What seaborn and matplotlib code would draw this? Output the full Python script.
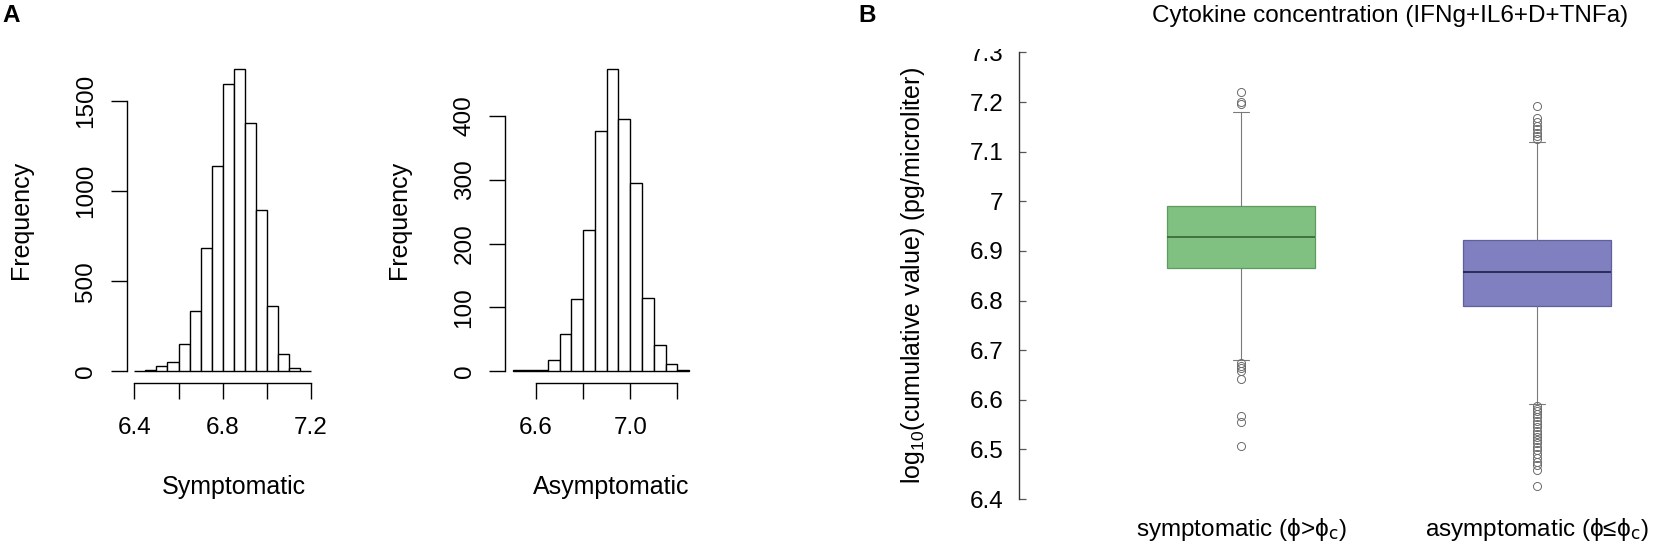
import numpy as np
import matplotlib
matplotlib.use("Agg")
import matplotlib.pyplot as plt
from matplotlib.patches import Rectangle
import seaborn as sns

# histogram counts (bin width 0.05)
sym_edges = np.arange(6.40, 7.2001, 0.05)
sym_counts = [2, 6, 27, 53, 152, 335, 682, 1138, 1599, 1681, 1377, 896, 364, 97, 19, 3]

asym_edges = np.arange(6.50, 7.2501, 0.05)
asym_counts = [1, 2, 2, 18, 58, 113, 222, 376, 474, 396, 295, 114, 41, 11, 2]

# box plot summary
groups = ["symptomatic", "asymptomatic"]
box_labels = [r"symptomatic ($\phi$>$\phi_{\mathrm{c}}$)",
              r"asymptomatic ($\phi$≤$\phi_{\mathrm{c}}$)"]
q1 = [6.866, 6.790]
med = [6.929, 6.857]
q3 = [6.9915, 6.922]
whislo = [6.681, 6.591]
whishi = [7.181, 7.120]
fliers = [
    [7.220, 7.201, 7.196, 6.675, 6.668, 6.665, 6.658, 6.642, 6.568, 6.555, 6.506],
    [7.192, 7.167, 7.159, 7.152, 7.145, 7.138, 7.131, 7.125,
     6.587, 6.582, 6.577, 6.572, 6.565, 6.558, 6.552, 6.545, 6.538, 6.532,
     6.525, 6.518, 6.512, 6.505, 6.498, 6.490, 6.483, 6.475, 6.468, 6.459, 6.426],
]
box_fill = ["#80C080", "#8080C0"]
box_edge = ["#5f9a5f", "#5f5f9a"]
box_median = ["#3d6a3d", "#25254f"]

sns.set_style("white")
plt.rcParams["font.family"] = ["Liberation Sans", "DejaVu Sans"]
plt.rcParams["mathtext.fontset"] = "dejavusans"
plt.rcParams["mathtext.default"] = "regular"
for k in ["text.color", "axes.labelcolor", "xtick.color", "ytick.color"]:
    plt.rcParams[k] = "black"

FS_TICK = 17.5
FS_LAB = 18
fig = plt.figure(figsize=(16.54, 5.49), dpi=100)


def r_hist(ax, edges, counts, xticks, xticklabels, yticks, xlabel, xlab_x):
    centers = edges[:-1] + 0.025
    sns.histplot(x=list(centers), weights=list(counts), bins=len(counts),
                 binrange=(edges[0], edges[-1]), ax=ax,
                 color="white", edgecolor="black", linewidth=1.0, alpha=1)
    top = max(counts)
    ax.set_ylim(-0.04 * top, 1.04 * top)
    rng = edges[-1] - edges[0]
    ax.set_xlim(edges[0] - 0.04 * rng, edges[-1] + 0.04 * rng)
    for s in ["top", "right"]:
        ax.spines[s].set_visible(False)
    ax.spines["left"].set_bounds(yticks[0], yticks[-1])
    ax.spines["bottom"].set_bounds(xticks[0], xticks[-1])
    for s in ["left", "bottom"]:
        ax.spines[s].set_linewidth(1.0)
        ax.spines[s].set_color("black")
    ax.set_xticks(xticks)
    ax.set_xticklabels(xticklabels)
    ax.set_yticks(yticks)
    ax.set_yticklabels([str(v) for v in yticks], rotation=90, va="center")
    ax.tick_params(bottom=True, left=True, direction="out", length=11.5,
                   width=1.0, labelsize=FS_TICK, color="black")
    ax.tick_params(axis="x", pad=13)
    ax.tick_params(axis="y", pad=10)
    ax.set_ylabel("Frequency", fontsize=FS_LAB)
    ax.yaxis.set_label_coords(-0.493, 0.5)
    ax.set_xlabel(xlabel, fontsize=FS_LAB)
    ax.xaxis.set_label_coords(xlab_x, -0.282)
    ax.grid(False)


ax1 = fig.add_axes([0.07697, 0.3020, 0.1153, 0.5947])
r_hist(ax1, sym_edges, sym_counts, [6.4, 6.6, 6.8, 7.0, 7.2],
       ["6.4", "", "6.8", "", "7.2"], [0, 500, 1000, 1500], "Symptomatic", 0.56)

ax2 = fig.add_axes([0.3056, 0.3020, 0.1153, 0.5947])
r_hist(ax2, asym_edges, asym_counts, [6.6, 6.8, 7.0, 7.2],
       ["6.6", "", "7.0", ""], [0, 100, 200, 300, 400], "Asymptomatic", 0.554)

# panel B
ax3 = fig.add_axes([0.6161, 0.08197, 0.3839, 0.8315])
stats = []
for i in range(len(groups)):
    stats.append(dict(label=groups[i], med=med[i], q1=q1[i], q3=q3[i],
                      whislo=whislo[i], whishi=whishi[i], fliers=fliers[i]))
bp = ax3.bxp(stats, positions=[1, 2], widths=0.5, capwidths=0.055,
             patch_artist=True, showfliers=True,
             whiskerprops=dict(color="#7a7a7a", linewidth=0.8),
             capprops=dict(color="#7a7a7a", linewidth=0.8),
             flierprops=dict(marker="o", markersize=5.8, markerfacecolor="none",
                             markeredgecolor="#6a6a6a", markeredgewidth=0.7))
for i, b in enumerate(bp["boxes"]):
    b.set_facecolor(box_fill[i])
    b.set_edgecolor(box_edge[i])
    b.set_linewidth(0.9)
    bp["medians"][i].set_color(box_median[i])
    bp["medians"][i].set_linewidth(1.3)

ax3.set_xlim(0.25, 2.395)
ax3.set_ylim(6.39, 7.31)
for s in ["top", "right", "bottom"]:
    ax3.spines[s].set_visible(False)
ax3.spines["left"].set_bounds(6.4, 7.3)
ax3.spines["left"].set_color("#333333")
ax3.spines["left"].set_linewidth(1.0)
yt = [6.4, 6.5, 6.6, 6.7, 6.8, 6.9, 7.0, 7.1, 7.2, 7.3]
ax3.set_yticks(yt)
ax3.set_yticklabels(["6.4", "6.5", "6.6", "6.7", "6.8", "6.9", "7", "7.1", "7.2", "7.3"])
ax3.tick_params(axis="y", left=True, direction="in", length=5, width=0.9,
                color="#555555", labelsize=FS_TICK, pad=11.5)
ax3.set_xticks([1, 2])
ax3.set_xticklabels(box_labels)
ax3.tick_params(axis="x", bottom=True, length=0, labelsize=FS_TICK, pad=8.5)
ax3.set_ylabel(r"log$_{10}$(cumulative value) (pg/microliter)", fontsize=FS_LAB)
ax3.yaxis.set_label_coords(-0.145, 0.5)
ax3.grid(False)

# top tick label is cut off in the original
clip = Rectangle((0, 0), 1, 1 - 49 / 549, transform=fig.transFigure)
lab_top = ax3.get_yticklabels()[-1]
lab_top.set_clip_on(True)
lab_top.set_clip_path(clip)

fig.text(1390 / 1654, 1 - 16 / 549, "Cytokine concentration (IFNg+IL6+D+TNFa)",
         ha="center", va="center", fontsize=FS_TICK)
fig.text(11 / 1654, 1 - 16 / 549, "A", ha="center", va="center",
         fontsize=17.5, fontweight="bold")
fig.text(867 / 1654, 1 - 16 / 549, "B", ha="center", va="center",
         fontsize=17.5, fontweight="bold")

fig.savefig("out.png", dpi=100, facecolor="white")
